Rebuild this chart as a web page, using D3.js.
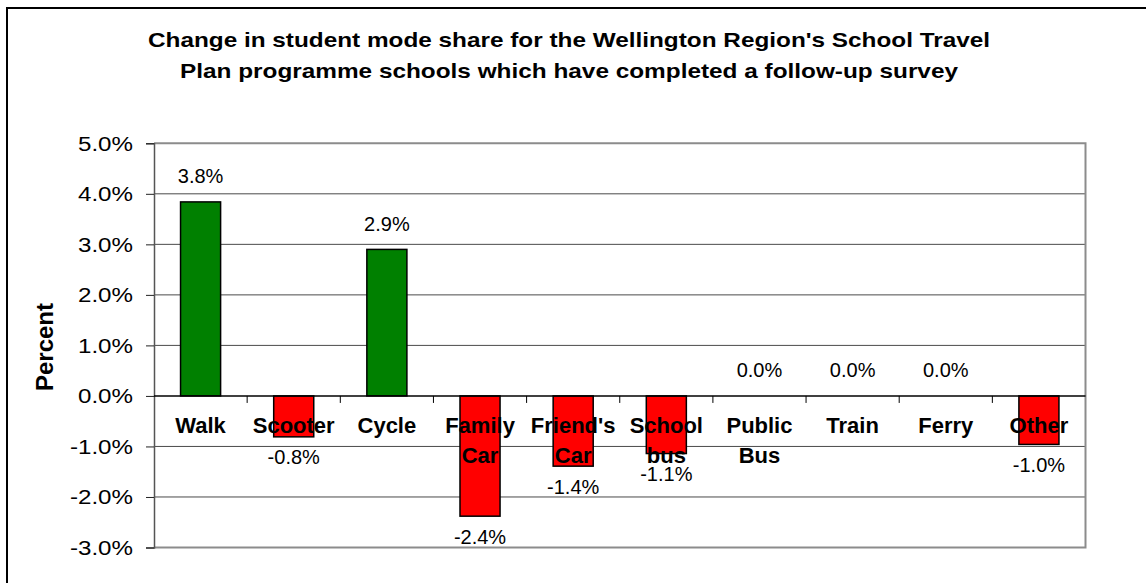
<!DOCTYPE html>
<html>
<head>
<meta charset="utf-8">
<script src="https://cdn.jsdelivr.net/npm/d3@7"></script>
<style>
    body { margin: 0; background: #fff; }
    svg { display: block; font-family: "Liberation Sans", Arial, sans-serif; }
</style>
</head>
<body>
<svg id="chart"></svg>
<script>
// data
const categories = ["Walk", "Scooter", "Cycle", "Family Car", "Friend's Car", "School bus", "Public Bus", "Train", "Ferry", "Other"];
const changes = [3.84, -0.81, 2.9, -2.38, -1.39, -1.14, 0, 0, 0, -0.96];
const yTicks = [-3, -2, -1, 0, 1, 2, 3, 4, 5];
const titleLines = ["Change in student mode share for the Wellington Region's School Travel",
                    "Plan programme schools which have completed a follow-up survey"];
const yTitle = "Percent";

class Barchart {

    margin = {top: 143.3, bottom: 35.5, left: 154, right: 60.5}

    constructor(svg, width = 1146, height = 583) {
        this.svg = d3.select(svg);
        this.width = width;
        this.height = height;
    }

    initialize() {
        this.svg.attr('width', this.width).attr('height', this.height);

        // outer chart frame (only top and left are inside the picture)
        this.svg.append('rect')
            .attr('x', 7).attr('y', 8)
            .attr('width', this.width).attr('height', this.height)
            .attr('fill', 'none').attr('stroke', '#000').attr('stroke-width', 2);

        this.xScale = d3.scaleBand()
            .domain(categories)
            .range([this.margin.left, this.width - this.margin.right])
            .paddingInner(0.57).paddingOuter(0.285);
        this.yScale = d3.scaleLinear()
            .domain([-3, 5])
            .range([this.height - this.margin.bottom, this.margin.top]);
    }

    update() {
        const x = this.xScale, y = this.yScale;
        const left = this.margin.left, right = this.width - this.margin.right;
        const fmt = v => d3.format('.1f')(v).replace('\u2212', '-') + '%';

        // gridlines
        this.svg.append('g')
            .selectAll('line')
            .data(yTicks.filter(t => t > -3 && t < 5 && t != 0))
            .join('line')
            .attr('x1', left).attr('x2', right)
            .attr('y1', d => y(d)).attr('y2', d => y(d))
            .attr('stroke', '#4a4a4a').attr('stroke-width', 1);

        // plot area border (gray)
        this.svg.append('path')
            .attr('d', `M${left},${y(5)}H${right}V${y(-3)}H${left}`)
            .attr('fill', 'none').attr('stroke', '#8c8c8c').attr('stroke-width', 2);

        // bars
        this.svg.append('g')
            .selectAll('rect')
            .data(categories)
            .join('rect')
            .attr('x', d => x(d))
            .attr('y', (d, i) => y(Math.max(0, changes[i])))
            .attr('width', x.bandwidth())
            .attr('height', (d, i) => Math.abs(y(changes[i]) - y(0)))
            .attr('fill', (d, i) => changes[i] >= 0 ? '#008000' : '#ff0000')
            .attr('stroke', '#000').attr('stroke-width', 1.5);

        // y axis
        const yAxis = this.svg.append('g')
            .attr('transform', `translate(${left},0)`)
            .call(d3.axisLeft(y).tickValues(yTicks).tickSize(8).tickPadding(13)
                .tickFormat(d => fmt(d)));
        yAxis.select('.domain').attr('stroke', '#555').attr('stroke-width', 1.5);
        yAxis.selectAll('.tick line').attr('stroke', '#222');
        // labels in the picture are drawn a bit wide
        yAxis.selectAll('text')
            .attr('font-size', '21px').attr('fill', '#000')
            .attr('font-family', '"Liberation Sans", Arial, sans-serif')
            .attr('x', -21 / 1.15)
            .attr('transform', 'scale(1.15,1)');

        // zero line with category ticks
        this.svg.append('line')
            .attr('x1', left).attr('x2', right)
            .attr('y1', y(0)).attr('y2', y(0))
            .attr('stroke', '#000').attr('stroke-width', 1.5);
        const step = x.step();
        this.svg.append('g')
            .selectAll('line')
            .data(categories.slice(1))
            .join('line')
            .attr('x1', d => x(d) - step * 0.285).attr('x2', d => x(d) - step * 0.285)
            .attr('y1', y(0)).attr('y2', y(0) + 7)
            .attr('stroke', '#000').attr('stroke-width', 1);

        // category labels
        this.svg.append('g')
            .selectAll('text')
            .data(categories)
            .join('text')
            .attr('x', d => x(d) + x.bandwidth() / 2)
            .attr('y', 432.7)
            .attr('text-anchor', 'middle')
            .attr('font-size', '22px').attr('font-weight', 'bold')
            .selectAll('tspan')
            .data(d => d.split(' '))
            .join('tspan')
            .attr('x', function() { return this.parentNode.getAttribute('x'); })
            .attr('dy', (d, i) => i == 0 ? 0 : 30.7)
            .text(d => d);

        // data labels
        this.svg.append('g')
            .selectAll('text')
            .data(categories)
            .join('text')
            .attr('x', d => x(d) + x.bandwidth() / 2)
            .attr('y', (d, i) => changes[i] >= 0 ? y(changes[i]) - 18.5 : y(changes[i]) + 27.5)
            .attr('text-anchor', 'middle')
            .attr('font-size', '20px')
            .text((d, i) => fmt(changes[i]));

        // titles
        const titleSpan = [842, 778];
        this.svg.append('g')
            .selectAll('text')
            .data(titleLines)
            .join('text')
            .attr('x', 569)
            .attr('y', (d, i) => i == 0 ? 47.3 : 78.3)
            .attr('text-anchor', 'middle')
            .attr('font-size', '21px').attr('font-weight', 'bold')
            .attr('textLength', (d, i) => titleSpan[i])
            .attr('lengthAdjust', 'spacingAndGlyphs')
            .text(d => d);

        this.svg.append('text')
            .attr('transform', 'translate(53,347) rotate(-90)')
            .attr('text-anchor', 'middle')
            .attr('font-size', '24px').attr('font-weight', 'bold')
            .text(yTitle);
    }
}

const chart = new Barchart('#chart');
chart.initialize();
chart.update();
</script>
</body>
</html>
